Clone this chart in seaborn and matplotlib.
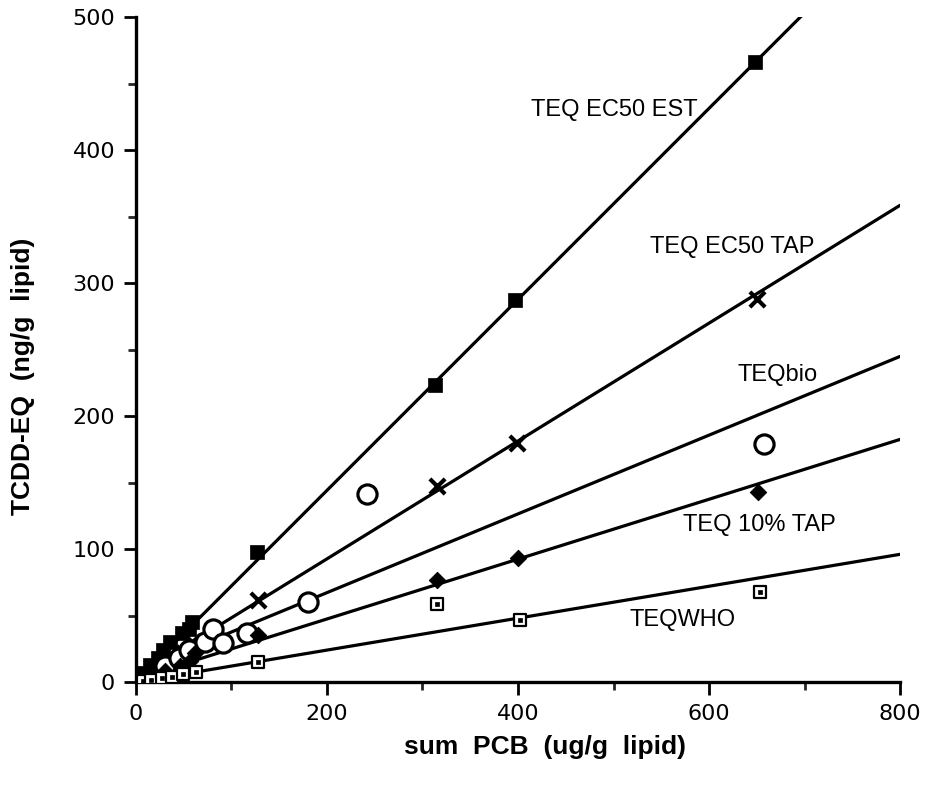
import numpy as np
import pandas as pd
import matplotlib
matplotlib.use("Agg")
import matplotlib.pyplot as plt
import seaborn as sns
from matplotlib.ticker import MultipleLocator

sns.set_theme(style="ticks")
plt.rcParams["font.family"] = ["Liberation Sans", "DejaVu Sans"]

# ---- data: sum PCB (ug/g lipid) vs TCDD-EQ (ng/g lipid) ----
est_x = [7, 15, 23, 28, 36, 48, 55, 59, 127, 313, 397, 648]
est_y = [7, 13, 18, 24, 30, 37, 40, 45, 98, 223, 287, 466]

tap_x = [10, 20, 30, 40, 50, 59, 128, 315, 399, 650]
tap_y = [5, 10, 14, 18, 22, 30, 62, 147, 180, 288]

bio_x = [30, 45, 55, 72, 81, 91, 116, 180, 242, 658]
bio_y = [12, 18, 24, 30, 40, 29, 37, 60, 141, 179]

tap10_x = [10, 20, 30, 46, 57, 62, 128, 315, 400, 651]
tap10_y = [3, 5, 8, 12, 16, 22, 35, 77, 93, 143]

who_x = [7, 16, 27, 38, 49, 63, 128, 315, 402, 653]
who_y = [1, 1.5, 3, 4, 6, 7.5, 15, 59, 47, 68]

# regression lines: intercept and slope per series
line_names = ["TEQ EC50 EST", "TEQ EC50 TAP", "TEQbio", "TEQ 10% TAP", "TEQWHO"]
line_intercepts = [0.5, 4.0, 8.0, 2.4, 0.0]
line_slopes = [0.718, 0.443, 0.296, 0.225, 0.120]

x_ticks = [0, 200, 400, 600, 800]
y_ticks = [0, 100, 200, 300, 400, 500]

fig = plt.figure(figsize=(9.25, 7.87), dpi=100)
ax = fig.add_axes([0.147, 0.1334, 0.826, 0.845])

# fitted lines
xs = np.linspace(0, 800, 200)
fit = pd.DataFrame({
    "x": np.tile(xs, len(line_names)),
    "y": np.concatenate([b + m * xs for b, m in zip(line_intercepts, line_slopes)]),
    "series": np.repeat(line_names, len(xs)),
})
for name in line_names:
    sub = fit[fit["series"] == name]
    sns.lineplot(data=sub, x="x", y="y", ax=ax, color="black", lw=2.3,
                 estimator=None, sort=False, legend=False)

# measured points
sns.scatterplot(x=est_x, y=est_y, ax=ax, marker="s", s=105, color="black",
                edgecolor="black", linewidth=0.5, zorder=5)
sns.scatterplot(x=tap_x, y=tap_y, ax=ax, marker="x", s=120, color="black",
                linewidth=3, zorder=5)
sns.scatterplot(x=bio_x, y=bio_y, ax=ax, marker="o", s=190, facecolor="white",
                edgecolor="black", linewidth=2.3, zorder=5)
sns.scatterplot(x=tap10_x, y=tap10_y, ax=ax, marker="D", s=70, color="black",
                edgecolor="black", zorder=5)
sns.scatterplot(x=who_x, y=who_y, ax=ax, marker="s", s=80, facecolor="white",
                edgecolor="black", linewidth=1.6, zorder=5)
sns.scatterplot(x=who_x, y=who_y, ax=ax, marker="s", s=6, color="black",
                edgecolor="black", linewidth=0.5, zorder=6)

# line labels
lab_kw = dict(fontsize=17, color="black", zorder=7)
ax.text(501, 430, "TEQ EC50 EST", ha="center", va="center", **lab_kw)
ax.text(538, 327, "TEQ EC50 TAP", ha="left", va="center", **lab_kw)
ax.text(672, 231, "TEQbio", ha="center", va="center", **lab_kw)
ax.text(573, 118, "TEQ 10% TAP", ha="left", va="center", **lab_kw)
ax.text(517, 47, "TEQWHO", ha="left", va="center", **lab_kw)

ax.set_xlim(0, 800)
ax.set_ylim(0, 500)
ax.set_xticks(x_ticks)
ax.set_yticks(y_ticks)
ax.xaxis.set_minor_locator(MultipleLocator(100))
ax.yaxis.set_minor_locator(MultipleLocator(50))
ax.tick_params(axis="both", which="major", direction="out", length=9,
               width=2, labelsize=16, colors="black")
ax.tick_params(axis="both", which="minor", direction="out", length=6, width=2)
ax.tick_params(axis="x", pad=7)
ax.tick_params(axis="y", pad=6)
for lab in ax.get_xticklabels() + ax.get_yticklabels():
    lab.set_family("DejaVu Sans")

sns.despine(ax=ax)
for side in ("left", "bottom"):
    ax.spines[side].set_linewidth(2.4)
    ax.spines[side].set_color("black")

ax.set_xlabel("sum  PCB  (ug/g  lipid)", fontsize=19, fontweight="bold", color="black")
ax.set_ylabel("TCDD-EQ  (ng/g  lipid)", fontsize=19, fontweight="bold", color="black")
ax.xaxis.set_label_coords(0.535, -0.08)
ax.yaxis.set_label_coords(-0.132, 0.46)

fig.savefig("out.png", dpi=100)
